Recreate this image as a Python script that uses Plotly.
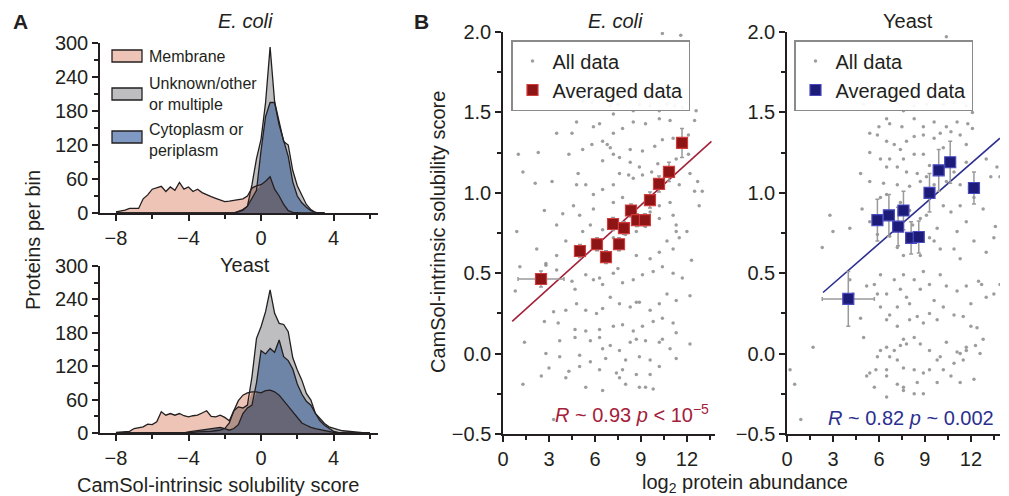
import numpy as np
import plotly.graph_objects as go

# the page keeps the browser's default 8px body margin, so the figure is drawn
# 8px smaller and every reference pixel position is shifted by that amount
PAGE_W, PAGE_H, OFF = 1009, 496, 8
W, H = PAGE_W - OFF, PAGE_H - OFF

# ---------------- Panel A: histograms (0.25-wide bins) ----------------
ecoli_bins = np.arange(-8.0, 3.51, 0.25)
ecoli_membrane = [2, 3, 5, 8, 8, 8, 25, 32, 42, 44, 47, 38, 46, 40, 54, 42, 46, 38, 42, 36,
                  32, 29, 26, 23, 20, 21, 22, 23, 25, 30, 44, 48, 50, 56, 64, 42, 30, 15, 4, 1,
                  0, 0, 0, 0, 0, 0, 0]
ecoli_unknown = [0, 0, 0, 0, 0, 0, 0, 0, 0, 0, 0, 0, 0, 0, 0, 0, 0, 0, 0, 0,
                 0, 0, 0, 0, 0, 0, 0, 3, 6, 12, 50, 96, 130, 195, 293, 196, 160, 126, 120, 75,
                 48, 30, 15, 6, 1, 0, 0]
ecoli_cyto = [0, 0, 0, 0, 0, 0, 0, 0, 0, 0, 0, 0, 0, 0, 0, 0, 0, 0, 0, 0,
              0, 0, 0, 0, 0, 0, 0, 2, 5, 12, 25, 40, 110, 170, 195, 195, 155, 126, 100, 55,
              30, 18, 10, 4, 1, 0, 0]

yeast_bins = np.arange(-8.0, 6.01, 0.25)
yeast_membrane = [1, 2, 2, 3, 8, 9, 11, 16, 15, 20, 38, 32, 35, 32, 35, 31, 29, 31, 32, 36,
                  40, 30, 29, 32, 28, 22, 40, 58, 68, 72, 74, 74, 72, 76, 77, 74, 68, 58, 47, 36,
                  26, 18, 14, 10, 8, 6, 5, 3, 1, 0, 0, 0, 0, 0, 0, 0, 0]
yeast_unknown = [0, 0, 0, 0, 0, 0, 0, 0, 0, 0, 0, 0, 0, 0, 0, 0, 1, 1, 2, 2,
                 3, 3, 4, 5, 8, 18, 40, 47, 45, 50, 101, 170, 191, 218, 257, 215, 197, 195, 182, 135,
                 113, 95, 71, 59, 35, 26, 17, 11, 8, 6, 4, 3, 2, 2, 1, 0, 0]
yeast_cyto = [0, 0, 0, 0, 0, 0, 0, 0, 0, 0, 0, 0, 0, 0, 0, 0, 2, 3, 4, 5,
              6, 7, 8, 10, 8, 5, 8, 15, 35, 45, 50, 90, 148, 142, 152, 145, 167, 137, 130, 115,
              88, 70, 57, 50, 35, 22, 14, 8, 3, 1, 0, 0, 0, 0, 0, 0, 0]

# ---------------- Panel B: abundance vs solubility ----------------
ecoli_all = [
    (5.2, 1.57), (5.8, 1.56), (7.0, 1.54), (7.5, 1.55), (8.5, 1.51), (8.9, 1.55), (9.6, 1.54),
    (10.2, 1.51), (10.7, 1.55), (11.2, 1.54), (11.7, 1.53), (12.6, 1.51), (12.5, 1.45),
    (10.9, 1.45), (10.2, 1.46), (9.3, 1.43), (8.5, 1.44), (7.2, 1.49), (6.3, 1.43), (5.9, 1.41),
    (4.8, 1.44), (7.8, 1.40), (7.2, 1.37), (6.5, 1.32), (5.8, 1.30), (5.2, 1.27), (4.3, 1.24),
    (3.5, 1.37), (4.5, 1.37), (1.0, 1.24), (2.3, 1.25), (1.3, 1.13), (2.1, 1.06), (3.2, 1.07),
    (4.9, 1.12), (4.8, 1.05), (5.4, 1.05), (5.9, 0.99), (6.5, 1.02), (7.2, 1.05), (7.6, 1.12),
    (8.2, 1.11), (8.5, 1.09), (9.1, 1.11), (9.7, 1.13), (10.1, 1.18), (8.9, 1.16), (8.3, 1.19),
    (7.6, 1.22), (7.2, 1.24), (6.5, 1.20), (7.0, 1.28), (8.3, 1.27), (9.1, 1.26), (9.9, 1.29),
    (10.4, 1.33), (11.1, 1.34), (12.1, 1.36), (12.1, 1.24), (11.3, 1.21), (12.2, 1.12),
    (12.7, 1.07), (12.5, 1.01), (11.5, 1.05), (10.9, 0.94), (10.2, 0.92), (9.6, 0.88),
    (10.2, 0.84), (9.3, 0.79), (8.7, 0.76), (8.0, 0.74), (7.2, 0.72), (6.5, 0.77), (5.7, 0.80),
    (5.0, 0.86), (3.9, 0.87), (4.6, 0.92), (5.9, 0.90), (7.2, 0.94), (7.8, 0.97), (11.1, 0.86),
    (11.3, 0.80), (12.0, 0.76), (11.5, 0.72), (10.7, 0.70), (10.2, 0.63), (9.6, 0.59),
    (8.7, 0.61), (5.2, 0.76), (4.1, 0.70), (3.5, 0.61), (2.8, 0.56), (2.2, 0.65), (0.9, 0.76),
    (5.2, 0.64), (12.8, 0.92), (13.0, 1.01), (3.5, 0.80), (11.3, 0.76), (11.1, 0.65),
    (12.3, 0.58), (2.7, 0.89), (6.8, 1.30),
    (1.1, 0.54), (0.8, 0.39), (2.8, 0.55), (3.5, 0.52), (4.5, 0.45), (4.7, 0.40), (5.4, 0.49),
    (5.9, 0.46), (6.3, 0.47), (6.5, 0.43), (7.2, 0.50), (7.5, 0.53), (7.8, 0.44), (8.5, 0.46),
    (9.1, 0.49), (9.8, 0.51), (10.4, 0.54), (11.1, 0.50), (11.7, 0.47), (12.2, 0.36),
    (11.3, 0.33), (10.7, 0.37), (10.2, 0.31), (9.6, 0.27), (8.9, 0.32), (8.7, 0.32), (8.3, 0.29),
    (7.6, 0.31), (7.0, 0.35), (6.5, 0.28), (6.1, 0.25), (5.4, 0.27), (4.8, 0.31), (4.1, 0.27),
    (3.3, 0.26), (2.7, 0.20), (3.6, 0.19), (4.7, 0.15), (5.4, 0.14), (6.3, 0.15), (7.2, 0.17),
    (7.8, 0.18), (8.5, 0.14), (9.1, 0.17), (9.8, 0.20), (10.4, 0.22), (11.1, 0.19), (11.3, 0.13),
    (10.2, 0.07), (9.3, 0.08), (8.7, 0.09), (8.3, 0.07), (7.6, 0.02), (7.0, 0.05), (6.3, 0.10),
    (5.7, 0.08), (4.7, 0.10), (3.7, 0.08), (1.4, 0.07), (2.8, 0.00), (3.7, -0.02), (5.0, -0.01),
    (6.5, 0.03), (6.7, -0.03), (5.7, -0.05), (5.0, -0.08), (4.3, -0.11), (4.1, -0.15),
    (3.0, -0.09), (2.5, -0.14), (1.3, -0.19), (6.3, -0.10), (7.4, -0.12), (7.8, -0.10),
    (8.0, -0.04), (8.9, -0.02), (9.6, -0.04), (10.2, -0.08), (9.6, -0.13), (8.7, -0.13),
    (7.6, -0.15), (8.0, -0.19), (8.9, -0.21), (9.3, -0.21), (9.8, -0.22), (6.5, -0.23),
    (5.4, -0.21), (3.3, -0.41), (10.9, 0.03), (11.3, -0.03), (12.2, 0.06), (10.4, 0.09),
    (10.4, 1.99), (11.6, 1.98), (9.5, 1.63), (8.0, 1.63), (6.3, 1.62),
]
ecoli_avg_x = [2.48, 5.02, 6.13, 6.72, 7.18, 7.57, 7.89, 8.35, 8.74, 9.26, 9.59, 10.18, 10.83, 11.68]
ecoli_avg_y = [0.464, 0.638, 0.68, 0.60, 0.806, 0.68, 0.78, 0.89, 0.83, 0.83, 0.955, 1.055, 1.13, 1.31]
ecoli_err_x = [1.5, 0.3, 0.25, 0.2, 0.2, 0.2, 0.2, 0.2, 0.2, 0.2, 0.2, 0.2, 0.25, 0.25]
ecoli_err_y = [0.05, 0.04, 0.04, 0.04, 0.04, 0.04, 0.04, 0.04, 0.04, 0.04, 0.05, 0.05, 0.06, 0.09]
ecoli_fit_x = [0.6, 13.6]
ecoli_fit_y = [0.20, 1.32]

yeast_all = [
    (5.0, 1.55), (7.2, 1.56), (7.6, 1.51), (8.3, 1.54), (9.1, 1.55), (10.2, 1.55), (10.9, 1.56),
    (11.7, 1.54), (12.1, 1.50), (6.5, 1.46), (6.0, 1.41), (6.7, 1.43), (7.5, 1.41), (8.3, 1.46),
    (8.9, 1.41), (9.6, 1.44), (10.4, 1.41), (11.1, 1.44), (11.8, 1.43), (12.1, 1.40),
    (5.4, 1.37), (5.9, 1.36), (6.5, 1.32), (7.0, 1.30), (7.4, 1.27), (7.8, 1.32), (8.3, 1.35),
    (8.9, 1.36), (9.6, 1.34), (10.0, 1.37), (10.7, 1.38), (11.3, 1.36), (11.7, 1.30),
    (5.4, 1.25), (6.1, 1.21), (6.7, 1.21), (7.6, 1.21), (8.3, 1.24), (8.9, 1.24), (9.3, 1.17),
    (10.2, 1.28), (6.5, 1.16), (7.2, 1.16), (7.8, 1.13), (8.5, 1.12), (9.1, 1.10), (4.8, 1.12),
    (5.4, 1.07), (6.3, 1.06), (7.2, 1.05), (8.0, 1.04), (8.7, 1.07), (9.6, 1.05), (10.4, 1.07),
    (11.3, 1.05), (10.9, 1.13), (11.7, 1.19), (13.0, 1.21), (13.7, 1.16), (13.3, 1.10),
    (13.9, 1.10), (2.8, 0.86), (3.0, 0.76), (2.3, 0.66), (4.9, 0.90), (5.4, 0.82), (5.9, 0.74),
    (6.7, 0.73), (6.1, 0.97), (6.5, 0.99), (7.4, 0.94), (8.0, 0.89), (8.7, 0.84), (9.1, 0.86),
    (9.8, 0.78), (10.2, 0.92), (10.7, 0.88), (11.3, 0.92), (11.7, 0.82), (12.2, 0.97),
    (12.8, 0.90), (13.6, 0.79), (13.5, 0.72), (9.3, 0.72), (10.0, 0.65), (10.9, 0.65),
    (11.3, 0.59), (7.6, 0.61), (7.2, 0.66), (8.7, 0.61), (8.2, 0.80), (9.6, 0.70), (11.1, 0.76),
    (12.2, 0.70), (13.0, 0.63), (4.1, 0.78), (9.1, 0.98),
    (1.7, 0.04), (0.2, -0.10), (0.5, -0.19), (0.9, -0.41), (4.1, 0.46), (4.3, 0.37), (4.8, 0.22),
    (5.0, 0.10), (5.2, 0.42), (5.7, 0.43), (5.9, 0.37), (6.1, 0.49), (6.5, 0.37), (7.0, 0.46),
    (7.2, 0.29), (7.4, 0.40), (7.6, 0.49), (7.8, 0.35), (8.0, 0.31), (8.3, 0.46), (8.7, 0.40),
    (8.9, 0.51), (9.3, 0.43), (9.6, 0.33), (10.0, 0.49), (10.4, 0.42), (11.1, 0.39), (11.7, 0.42),
    (12.0, 0.31), (12.5, 0.45), (12.7, 0.43), (13.0, 0.35), (13.5, 0.37), (13.9, 0.43),
    (6.1, 0.29), (6.5, 0.21), (6.7, 0.24), (7.2, 0.17), (7.6, 0.09), (8.0, 0.21), (8.5, 0.23),
    (8.9, 0.19), (9.3, 0.25), (9.8, 0.21), (10.2, 0.29), (10.9, 0.24), (11.5, 0.23), (12.0, 0.17),
    (12.4, 0.16), (12.8, 0.09), (12.3, 0.05), (11.7, 0.04), (11.1, 0.01), (10.4, 0.07),
    (10.0, -0.02), (9.8, -0.04), (9.3, 0.02), (8.7, 0.06), (8.3, 0.10), (7.8, 0.06), (7.4, 0.05),
    (7.0, 0.02), (6.5, 0.04), (6.1, 0.02), (5.9, -0.02), (6.7, -0.02), (7.2, -0.04), (7.6, -0.09),
    (6.5, -0.10), (5.8, -0.10), (5.2, -0.14), (5.4, -0.12), (6.5, -0.14), (7.2, -0.19),
    (7.6, -0.21), (8.5, -0.18), (8.9, -0.12), (9.3, -0.10), (10.2, -0.10), (10.9, -0.06),
    (11.3, 0.00), (11.7, 0.02), (12.6, 0.00), (11.3, -0.18), (10.7, -0.14), (9.8, -0.18),
    (8.9, -0.25), (8.3, -0.25), (7.6, -0.23), (6.5, -0.27), (5.7, -0.21), (8.3, -0.10),
    (12.2, -0.16), (11.5, -0.04), (10.4, 1.97),
]
yeast_avg_x = [4.0, 5.9, 6.65, 7.25, 7.6, 8.1, 8.6, 9.3, 9.9, 10.65, 12.2]
yeast_avg_y = [0.34, 0.83, 0.86, 0.79, 0.89, 0.72, 0.725, 1.0, 1.14, 1.19, 1.03]
yeast_err_x = [1.7, 0.2, 0.2, 0.2, 0.2, 0.2, 0.2, 0.2, 0.2, 0.2, 0.35]
yeast_err_y = [0.17, 0.13, 0.13, 0.12, 0.12, 0.1, 0.1, 0.12, 0.13, 0.13, 0.1]
yeast_fit_x = [2.35, 13.9]
yeast_fit_y = [0.38, 1.34]

# ---------------- styling ----------------
INK = '#231f20'
PINK = '#EEC4B6'
GRAY = '#BEBEC0'
BLUE = '#6F85A8'
RED = '#A3213A'
NAVY = '#2B2F8F'
FONT = 'Liberation Sans, Arial, sans-serif'


def multiply(c1, c2):
    a = [int(c1[i:i + 2], 16) for i in (1, 3, 5)]
    b = [int(c2[i:i + 2], 16) for i in (1, 3, 5)]
    return 'rgb(%d,%d,%d)' % tuple(x * y // 255 for x, y in zip(a, b))


def px_x(p):
    return (p - OFF) / W


def px_y(p):
    return 1 - (p - OFF) / H


fig = go.Figure()


def add_hist(bins, mem, unk, cyt, xa, ya):
    mem, unk, cyt = np.array(mem), np.array(unk), np.array(cyt)
    # emulate multiply blending of the membrane layer
    layers = [(unk, GRAY), (cyt, BLUE), (mem, PINK),
              (np.minimum(mem, unk), multiply(PINK, GRAY)),
              (np.minimum(mem, cyt), multiply(PINK, BLUE))]
    for y, c in layers:
        fig.add_trace(go.Scatter(x=bins, y=y, mode='lines', fill='tozeroy', fillcolor=c,
                                 line=dict(width=0), xaxis=xa, yaxis=ya,
                                 showlegend=False, hoverinfo='skip'))
    for y in (unk, cyt, mem):
        fig.add_trace(go.Scatter(x=bins, y=y, mode='lines', line=dict(color=INK, width=1.3),
                                 xaxis=xa, yaxis=ya, showlegend=False, hoverinfo='skip'))


add_hist(ecoli_bins, ecoli_membrane, ecoli_unknown, ecoli_cyto, 'x', 'y')
add_hist(yeast_bins, yeast_membrane, yeast_unknown, yeast_cyto, 'x2', 'y2')


def add_scatter(pts, ax, ay, ex, ey, fx, fy, color, fill, edge, xa, ya, legend):
    xs = [p[0] for p in pts]
    ys = [p[1] for p in pts]
    fig.add_trace(go.Scatter(x=xs, y=ys, mode='markers', name='All data',
                             marker=dict(size=3.5, color='#8c8c8c', opacity=0.85),
                             xaxis=xa, yaxis=ya, legend=legend))
    fig.add_trace(go.Scatter(x=fx, y=fy, mode='lines', line=dict(color=color, width=1.6),
                             xaxis=xa, yaxis=ya, showlegend=False))
    fig.add_trace(go.Scatter(x=ax, y=ay, mode='markers', name='Averaged data',
                             marker=dict(symbol='square', size=11, color=fill,
                                         line=dict(color=edge, width=1.2)),
                             error_x=dict(type='data', array=ex, color='#9a9a9a', thickness=1.5, width=2),
                             error_y=dict(type='data', array=ey, color='#9a9a9a', thickness=1.5, width=2),
                             xaxis=xa, yaxis=ya, legend=legend))


add_scatter(ecoli_all, ecoli_avg_x, ecoli_avg_y, ecoli_err_x, ecoli_err_y,
            ecoli_fit_x, ecoli_fit_y, RED, '#8E1515', '#D23B3B', 'x3', 'y3', 'legend2')
add_scatter(yeast_all, yeast_avg_x, yeast_avg_y, yeast_err_x, yeast_err_y,
            yeast_fit_x, yeast_fit_y, NAVY, '#1C1C78', '#4A4AC0', 'x4', 'y4', 'legend3')

ax_base = dict(showline=True, linecolor=INK, linewidth=1.5, ticks='outside', ticklen=6,
               tickwidth=1.5, tickcolor=INK, showgrid=False, zeroline=False, automargin=False,
               tickfont=dict(size=20, color=INK, family=FONT))
minor = lambda d: dict(dtick=d, ticklen=4, tickwidth=1.5, tickcolor=INK, ticks='outside', showgrid=False)

hist_x = dict(ax_base, range=[-8.88, 6.45], tick0=0, dtick=4, minor=minor(2),
              domain=[px_x(100), px_x(378)])
hist_y = dict(ax_base, range=[0, 300], tick0=0, dtick=60, minor=minor(30))
sc_x = dict(ax_base, range=[0, 13.8], tick0=0, dtick=3, minor=minor(1.5))
sc_y = dict(ax_base, range=[-0.5, 2.0], tick0=0, dtick=0.5, minor=minor(0.25), tickformat='.1f',
            domain=[px_y(434), px_y(32)])

legend_box = dict(xanchor='left', yanchor='top', bgcolor='rgba(255,255,255,0.92)',
                  bordercolor='#8a8a8a', borderwidth=1.5, font=dict(size=20, color=INK),
                  itemsizing='trace', tracegroupgap=0)

fig.update_layout(
    template='none',
    width=W, height=H, margin=dict(l=0, r=0, t=0, b=0, autoexpand=False),
    paper_bgcolor='white', plot_bgcolor='white',
    font=dict(family=FONT, color=INK, size=20),
    showlegend=True,
    xaxis=dict(hist_x, anchor='y'),
    yaxis=dict(hist_y, anchor='x', domain=[px_y(213), px_y(43)]),
    xaxis2=dict(hist_x, anchor='y2'),
    yaxis2=dict(hist_y, anchor='x2', domain=[px_y(433), px_y(266)]),
    xaxis3=dict(sc_x, anchor='y3', domain=[px_x(503), px_x(714.5)]),
    yaxis3=dict(sc_y, anchor='x3'),
    xaxis4=dict(sc_x, range=[0, 13.9], anchor='y4', domain=[px_x(787), px_x(1000)]),
    yaxis4=dict(sc_y, anchor='x4'),
    legend=dict(visible=False),
    legend2=dict(legend_box, x=px_x(511), y=px_y(40)),
    legend3=dict(legend_box, x=px_x(794), y=px_y(40)),
)

# manual legend for the histograms
hist_legend = [(PINK, 50, 62, 'Membrane', 57),
               (GRAY, 88, 100, 'Unknown/other<br>or multiple', 94),
               ('#7F99C3', 131, 143, 'Cytoplasm or<br>periplasm', 140)]
for col, y0, y1, label, yc in hist_legend:
    fig.add_shape(type='rect', xref='paper', yref='paper', x0=px_x(112), x1=px_x(142),
                  y0=px_y(y1), y1=px_y(y0), fillcolor=col, line=dict(color=INK, width=1.3))
    fig.add_annotation(xref='paper', yref='paper', x=px_x(147), y=px_y(yc), text=label,
                       showarrow=False, xanchor='left', yanchor='middle', align='left',
                       font=dict(size=16, color=INK))


def note(text, x, y, xanchor='center', size=20, angle=0, color=INK):
    fig.add_annotation(xref='paper', yref='paper', x=px_x(x), y=px_y(y), text=text,
                       showarrow=False, xanchor=xanchor, yanchor='middle', textangle=angle,
                       borderpad=0, font=dict(size=size, color=color))


note('<b>A</b>', 20, 21, size=21)
note('<b>B</b>', 421, 21, size=21)
note('<i>E. coli</i>', 245, 21)
note('Yeast', 245, 265)
note('<i>E. coli</i>', 615, 21)
note('Yeast', 908, 21)
note('Proteins per bin', 33, 240, angle=-90)
note('CamSol-intrinsic solubility score', 218, 485)
note('CamSol-intrinsic solubility score', 438, 232, angle=-90)
note('log<sub>2</sub> protein abundance', 745, 483)
note('<i>R</i> ~ 0.93 <i>p</i> &lt; 10<sup>\u22125</sup>', 710, 413, xanchor='right', color=RED)
note('<i>R</i> ~ 0.82 <i>p</i> ~ 0.002', 995, 418, xanchor='right', color=NAVY)

fig.write_html("out.html")
